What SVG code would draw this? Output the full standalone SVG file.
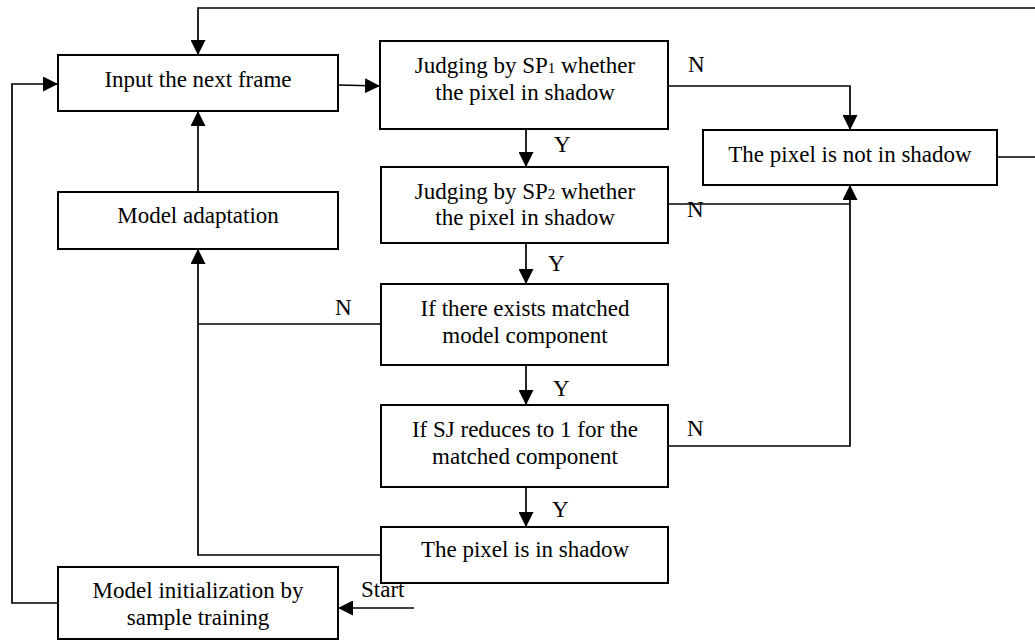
<svg xmlns="http://www.w3.org/2000/svg" width="1035" height="641" viewBox="0 0 1035 641">
<style>
.box{fill:#fff;stroke:#000;stroke-width:2}
.t{font-family:"Liberation Serif","Times New Roman",serif;font-size:23px;fill:#000;text-anchor:middle}
.l{font-family:"Liberation Serif","Times New Roman",serif;font-size:23px;fill:#000}
.sub{font-size:15px}
.c{fill:none;stroke:#000;stroke-width:1.7}
</style>
<defs>
<marker id="ah" viewBox="0 0 15 15" refX="15" refY="7.5" markerWidth="15" markerHeight="15" markerUnits="userSpaceOnUse" orient="auto">
<path d="M0,0 L15,7.5 L0,15 Z" fill="#000"/>
</marker>
</defs>
<rect width="1035" height="641" fill="#fff"/>
<g id="connectors">
<path class="c" d="M1035,8 H198 V55" marker-end="url(#ah)"/>
<path class="c" d="M338,85 L380,86" marker-end="url(#ah)"/>
<path class="c" d="M668,86 H850 V130" marker-end="url(#ah)"/>
<path class="c" d="M997,157 H1035"/>
<path class="c" d="M526,129 V167" marker-end="url(#ah)"/>
<path class="c" d="M668,204 H850"/>
<path class="c" d="M668,446 H850 V185" marker-end="url(#ah)"/>
<path class="c" d="M526,243 V284" marker-end="url(#ah)"/>
<path class="c" d="M381,324 H198"/>
<path class="c" d="M381,555 H198 V249" marker-end="url(#ah)"/>
<path class="c" d="M526,365 V405" marker-end="url(#ah)"/>
<path class="c" d="M526,487 V527" marker-end="url(#ah)"/>
<path class="c" d="M198,192 V111" marker-end="url(#ah)"/>
<path class="c" d="M58,603 H12 V84 H58" marker-end="url(#ah)"/>
<path class="c" d="M414,608 H338" marker-end="url(#ah)"/>
<text class="l" x="688" y="72">N</text>
<text class="l" x="554" y="152">Y</text>
<text class="l" x="687" y="217">N</text>
<text class="l" x="548" y="271">Y</text>
<text class="l" x="335" y="315">N</text>
<text class="l" x="553" y="396">Y</text>
<text class="l" x="687" y="436">N</text>
<text class="l" x="552" y="517">Y</text>
<text class="l" x="361" y="597">Start</text>
</g>
<g id="input">
<rect class="box" x="58" y="55" width="280" height="56"/>
<text class="t" x="198" y="87">Input the next frame</text>
</g>
<g id="sp1">
<rect class="box" x="380" y="41" width="288" height="88"/>
<text class="t" x="525" y="73">Judging by SP<tspan class="sub">1</tspan> whether</text>
<text class="t" x="525" y="100">the pixel in shadow</text>
</g>
<g id="notshadow">
<rect class="box" x="703" y="130" width="294" height="55"/>
<text class="t" x="850" y="162">The pixel is not in shadow</text>
</g>
<g id="sp2">
<rect class="box" x="381" y="167" width="287" height="76"/>
<text class="t" x="525" y="199">Judging by SP<tspan class="sub">2</tspan> whether</text>
<text class="t" x="525" y="225">the pixel in shadow</text>
</g>
<g id="adapt">
<rect class="box" x="58" y="192" width="280" height="57"/>
<text class="t" x="198" y="223">Model adaptation</text>
</g>
<g id="exists">
<rect class="box" x="381" y="284" width="287" height="81"/>
<text class="t" x="525" y="316">If there exists matched</text>
<text class="t" x="525" y="343">model component</text>
</g>
<g id="sj">
<rect class="box" x="381" y="405" width="287" height="82"/>
<text class="t" x="525" y="437">If SJ reduces to 1 for the</text>
<text class="t" x="525" y="464">matched component</text>
</g>
<g id="inshadow">
<rect class="box" x="381" y="527" width="287" height="56"/>
<text class="t" x="525" y="557">The pixel is in shadow</text>
</g>
<g id="init">
<rect class="box" x="58" y="567" width="280" height="72"/>
<text class="t" x="198" y="598">Model initialization by</text>
<text class="t" x="198" y="625">sample training</text>
</g>
</svg>
